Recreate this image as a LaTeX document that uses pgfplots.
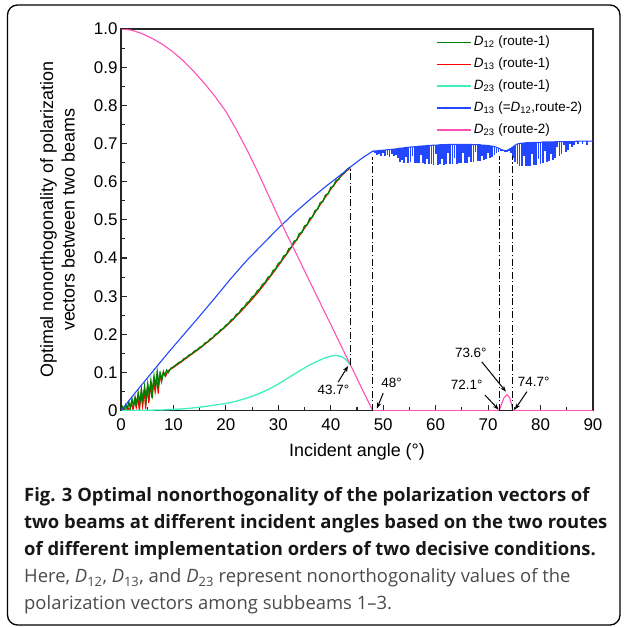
\documentclass[border=0pt]{standalone}
\usepackage{fontspec}
\setmainfont{Liberation Sans}
\newfontfamily\capfont{Open Sans}
\usepackage{pgfplots}
\pgfplotsset{compat=1.18}
\usepackage{pgfplotstable}
\usetikzlibrary{arrows.meta}
\definecolor{cgreen}{RGB}{0,128,0}
\definecolor{cred}{RGB}{255,0,0}
\definecolor{ccyan}{RGB}{64,240,190}
\definecolor{cblue}{RGB}{35,70,255}
\definecolor{cpink}{RGB}{255,80,180}
\definecolor{capdark}{RGB}{25,22,22}
\definecolor{capgray}{RGB}{75,75,75}

\pgfplotstableread{
x t b
48.0 0.680 0.678
48.4 0.681 0.674
48.8 0.681 0.670
49.2 0.682 0.672
49.6 0.682 0.668
50.0 0.683 0.674
50.4 0.683 0.666
50.8 0.684 0.670
51.2 0.684 0.664
51.6 0.685 0.672
52.0 0.685 0.666
52.4 0.686 0.670
52.8 0.687 0.662
53.2 0.688 0.652
53.6 0.688 0.656
54.0 0.689 0.650
54.4 0.690 0.664
54.8 0.690 0.650
55.2 0.691 0.652
55.6 0.691 0.668
56.0 0.692 0.648
56.4 0.692 0.650
56.8 0.693 0.648
57.2 0.693 0.670
57.6 0.694 0.648
58.0 0.694 0.646
58.4 0.695 0.660
58.8 0.695 0.646
59.2 0.695 0.647
59.6 0.696 0.645
60.0 0.696 0.672
60.4 0.696 0.645
60.8 0.697 0.646
61.2 0.697 0.660
61.6 0.697 0.645
62.0 0.697 0.646
62.4 0.698 0.676
62.8 0.698 0.646
63.2 0.698 0.647
63.6 0.698 0.662
64.0 0.698 0.647
64.4 0.698 0.648
64.8 0.698 0.648
65.2 0.698 0.674
65.6 0.698 0.649
66.0 0.698 0.650
66.4 0.698 0.664
66.8 0.698 0.651
67.2 0.697 0.652
67.6 0.697 0.678
68.0 0.697 0.653
68.4 0.697 0.655
68.8 0.696 0.668
69.2 0.696 0.657
69.6 0.695 0.659
70.0 0.695 0.676
70.4 0.694 0.662
70.8 0.693 0.665
71.2 0.692 0.670
71.6 0.690 0.674
72.0 0.688 0.678
72.4 0.685 0.680
72.8 0.683 0.680
73.2 0.681 0.678
73.6 0.682 0.679
74.0 0.685 0.681
74.4 0.688 0.676
74.8 0.692 0.662
75.2 0.696 0.652
75.6 0.699 0.646
76.0 0.700 0.642
76.4 0.701 0.641
76.8 0.701 0.668
77.2 0.702 0.641
77.6 0.702 0.642
78.0 0.702 0.642
78.4 0.702 0.672
78.8 0.703 0.643
79.2 0.703 0.645
79.6 0.703 0.660
80.0 0.703 0.647
80.4 0.704 0.649
80.8 0.704 0.680
81.2 0.704 0.652
81.6 0.704 0.655
82.0 0.704 0.672
82.4 0.704 0.658
82.8 0.705 0.662
83.2 0.705 0.690
83.6 0.705 0.667
84.0 0.705 0.672
84.4 0.705 0.695
84.8 0.705 0.678
85.2 0.705 0.684
85.6 0.705 0.700
86.0 0.705 0.690
86.4 0.705 0.696
86.8 0.706 0.704
87.2 0.706 0.698
87.6 0.706 0.706
88.0 0.706 0.700
88.4 0.706 0.706
88.8 0.706 0.696
89.2 0.706 0.706
90.0 0.706 0.706
}\bandtable

\begin{document}
\begin{tikzpicture}
\useasboundingbox (0,0) rectangle (625bp,-627bp);
\draw[line width=1.3bp, rounded corners=10bp] (7.5bp,-5bp) rectangle (620bp,-625bp);
\begin{axis}[
  at={(121bp,-410.7bp)}, anchor=south west,
  scale only axis, width=472bp, height=381.7bp,
  xmin=0, xmax=90, ymin=0, ymax=1,
  axis line style={line width=1.1bp, black!85},
  xtick={0,10,20,30,40,50,60,70,80,90},
  xticklabels={0,10,20,30,40,50,60,70,80,90},
  ytick={0,0.1,0.2,0.3,0.4,0.5,0.6,0.7,0.8,0.9,1},
  yticklabels={0,0.1,0.2,0.3,0.4,0.5,0.6,0.7,0.8,0.9,1.0},
  minor x tick num=1, minor y tick num=1,
  tick align=inside, xtick pos=bottom, ytick pos=left,
  major tick length=6bp, minor tick length=3.5bp,
  tick style={line width=1.1bp, black!85},
  /pgf/number format/assume math mode=true,
  ticklabel style={font=\fontsize{17}{19}\selectfont},
  xticklabel style={yshift=-4bp},
  xlabel={Incident angle (°)},
  xlabel style={font=\fontsize{18}{20}\selectfont, at={(axis description cs:0.5,-0.108)}, anchor=center},
  legend style={draw=none, fill=none, at={(0.985,0.993)}, anchor=north east,
    font=\fontsize{13.5}{15}\selectfont, row sep=4bp, inner sep=1.5bp,
    nodes={text height=10bp, text depth=4bp}},
  legend cell align=left,
  legend image code/.code={\draw[#1] (0bp,0bp) -- (34bp,0bp);},
]
\addlegendimage{draw=cgreen, line width=1.7bp}
\addlegendentry{\textit{D}\textsubscript{12} (route-1)}
\addlegendimage{draw=cred, line width=1.7bp}
\addlegendentry{\textit{D}\textsubscript{13} (route-1)}
\addlegendimage{draw=ccyan, line width=1.7bp}
\addlegendentry{\textit{D}\textsubscript{23} (route-1)}
\addlegendimage{draw=cblue, line width=1.7bp}
\addlegendentry{\textit{D}\textsubscript{13} (=\textit{D}\textsubscript{12},route-2)}
\addlegendimage{draw=cpink, line width=1.7bp}
\addlegendentry{\textit{D}\textsubscript{23} (route-2)}

% D13 route-1 (red)
\addplot[cred, line width=1.1bp, forget plot] coordinates {
(0,0) (0.4,0.004) (0.8,0.0) (1.2,0.012) (1.6,0.0) (2.0,0.02) (2.3,0.002) (2.6,0.03)
(2.9,0.008) (3.2,0.04) (3.5,0.0) (3.8,0.045) (4.1,0.012) (4.4,0.055) (4.7,0.005)
(5.0,0.06) (5.3,0.02) (5.6,0.07) (5.9,0.033) (6.2,0.08) (6.5,0.05) (6.8,0.09)
(7.1,0.045) (7.4,0.095) (7.7,0.075) (8,0.098) (8.5,0.09) (9,0.105) (10,0.113)
(11,0.123) (12,0.133) (13,0.143) (14,0.153) (15,0.163) (16,0.174) (17,0.185)
(18,0.197) (19,0.209) (20,0.221) (21,0.234) (22,0.248) (23,0.262) (24,0.277)
(25,0.292) (26,0.308) (27,0.325) (28,0.343) (29,0.361) (30,0.38) (31,0.399)
(32,0.418) (33,0.438) (34,0.458) (35,0.478) (36,0.498) (37,0.519) (38,0.54)
(39,0.56) (40,0.58) (41,0.598) (42,0.615) (43,0.628) (43.7,0.636)};

% D12 route-1 (green)
\addplot[cgreen, line width=1.4bp, forget plot] coordinates {
(0,0) (0.3,0.01) (0.6,0.002) (0.9,0.015) (1.2,0.005) (1.5,0.022) (1.8,0.008)
(2.1,0.03) (2.4,0.012) (2.7,0.035) (3.0,0.018) (3.3,0.045) (3.6,0.02) (3.9,0.055)
(4.2,0.025) (4.5,0.062) (4.8,0.03) (5.1,0.07) (5.4,0.04) (5.7,0.078) (6.0,0.045)
(6.3,0.09) (6.6,0.06) (6.9,0.102) (7.2,0.07) (7.5,0.097) (7.8,0.082) (8.1,0.102)
(8.4,0.092) (8.7,0.106) (9.0,0.1) (9.5,0.111) (10,0.115)
(10.5,0.12) (11,0.126) (11.5,0.129) (12,0.136) (12.5,0.139) (13,0.146)
(13.5,0.149) (14,0.156) (14.5,0.159) (15,0.166) (15.5,0.169) (16,0.177)
(16.5,0.18) (17,0.188) (17.5,0.191) (18,0.2) (18.5,0.203) (19,0.212)
(19.5,0.215) (20,0.224) (20.5,0.228) (21,0.238) (21.5,0.241) (22,0.252)
(22.5,0.256) (23,0.267) (23.5,0.271) (24,0.282) (24.5,0.287) (25,0.298)
(25.5,0.302) (26,0.314) (26.5,0.319) (27,0.331) (27.5,0.336) (28,0.349)
(28.5,0.353) (29,0.367) (29.5,0.371) (30,0.386) (30.5,0.39) (31,0.405)
(31.5,0.409) (32,0.424) (32.5,0.428) (33,0.444) (33.5,0.447) (34,0.464)
(34.5,0.467) (35,0.484) (35.5,0.487) (36,0.504) (36.5,0.507) (37,0.524)
(37.5,0.528) (38,0.545) (38.5,0.548) (39,0.565) (39.5,0.568) (40,0.585)
(40.5,0.588) (41,0.603) (41.5,0.606) (42,0.619) (42.5,0.622) (43,0.631) (43.7,0.638)};

% D23 route-1 (cyan)
\addplot[ccyan, line width=1.3bp, forget plot] coordinates {
(0,0) (4,0.001) (8,0.002) (12,0.005) (15,0.009) (18,0.015) (20,0.019) (22,0.025)
(24,0.033) (26,0.043) (28,0.055) (30,0.07) (32,0.087) (34,0.104) (36,0.12)
(38,0.133) (39,0.139) (40,0.143) (41,0.145) (42,0.142) (42.7,0.136)
(43.2,0.129) (43.7,0.12)};

% D13 route-2 (blue), rising part
\addplot[cblue, line width=1.1bp, forget plot] coordinates {
(0,0) (3,0.052) (6,0.102) (9,0.152) (12,0.2) (15,0.248) (18,0.297) (21,0.347)
(24,0.394) (27,0.436) (30,0.478) (33,0.517) (36,0.553) (39,0.587) (42,0.619)
(43.7,0.638) (46,0.662) (48,0.68)};

% D13 route-2 (blue), oscillating band
\addplot[cblue, line width=1.0bp, forget plot,
  error bars/.cd, y dir=minus, y explicit,
  error bar style={line width=1.8bp, cblue}, error mark=none]
  table[x=x, y=t, y error minus expr=\thisrow{t}-\thisrow{b}] {\bandtable};

% D23 route-2 (pink)
\addplot[cpink, line width=1.1bp, forget plot] coordinates {
(0,1.0) (2,0.997) (4,0.988) (6,0.975) (8,0.959) (10,0.939) (12,0.915)
(14,0.887) (16,0.856) (18,0.822) (20,0.784) (22,0.736) (24,0.684) (26,0.628)
(28,0.568) (30,0.508) (32,0.451) (34,0.395) (36,0.338) (38,0.282) (40,0.226)
(42,0.169) (44,0.113) (46,0.056) (48,0) (72.1,0) (72.5,0.015) (73,0.033)
(73.6,0.042) (74.1,0.035) (74.5,0.015) (74.7,0) (90,0)};

% dash-dot guide lines
\tikzset{dd/.style={black, line width=1.1bp, dash pattern=on 7bp off 2.5bp on 1.2bp off 2.5bp}}
\draw[dd] (axis cs:43.7,0.12) -- (axis cs:43.7,0.636);
\draw[dd] (axis cs:48,0) -- (axis cs:48,0.665);
\draw[dd] (axis cs:72.1,0) -- (axis cs:72.1,0.668);
\draw[dd] (axis cs:74.7,0) -- (axis cs:74.7,0.668);

% annotations
\tikzset{ann/.style={-{Stealth[length=6bp,width=4.5bp]}, line width=1bp, black}}
\draw[ann] (axis cs:41.4,0.075) -- (axis cs:43.3,0.117);
\node[font=\fontsize{13.5}{15}\selectfont] at (axis cs:40.5,0.054) {43.7°};
\draw[ann] (axis cs:50,0.046) -- (axis cs:48.8,0.006);
\node[font=\fontsize{13.5}{15}\selectfont] at (axis cs:51.6,0.074) {48°};
\draw[ann] (axis cs:69.4,0.041) -- (axis cs:72,0.003);
\node[font=\fontsize{13.5}{15}\selectfont] at (axis cs:65.9,0.067) {72.1°};
\draw[ann] (axis cs:68.8,0.128) -- (axis cs:73.4,0.05);
\node[font=\fontsize{13.5}{15}\selectfont] at (axis cs:66.7,0.152) {73.6°};
\draw[ann] (axis cs:77.4,0.05) -- (axis cs:75.1,0.003);
\node[font=\fontsize{13.5}{15}\selectfont] at (axis cs:78.7,0.077) {74.7°};
\end{axis}

% y label
\node[rotate=90, align=center, font=\fontsize{18}{21.6}\selectfont] at (57.5bp,-219.8bp)
  {Optimal nonorthogonality of polarization\\vectors between two beams};

% caption
\begin{scope}[every node/.style={anchor=base west, inner sep=0pt}]
\node[font=\capfont\bfseries\fontsize{18.5}{22}\selectfont, text=capdark] at (24bp,-501.7bp)
  {Fig. 3 Optimal nonorthogonality of the polarization vectors of};
\node[font=\capfont\bfseries\fontsize{18.5}{22}\selectfont, text=capdark] at (24bp,-528.3bp)
  {two beams at different incident angles based on the two routes};
\node[font=\capfont\bfseries\fontsize{18.5}{22}\selectfont, text=capdark] at (24bp,-555bp)
  {of different implementation orders of two decisive conditions.};
\node[font=\capfont\fontsize{18.5}{22}\selectfont, text=capgray] at (24bp,-582.7bp)
  {Here, \textit{D}\textsubscript{12}, \textit{D}\textsubscript{13}, and \textit{D}\textsubscript{23} represent nonorthogonality values of the};
\node[font=\capfont\fontsize{18.5}{22}\selectfont, text=capgray] at (24bp,-609.3bp)
  {polarization vectors among subbeams 1–3.};
\end{scope}
\end{tikzpicture}
\end{document}
